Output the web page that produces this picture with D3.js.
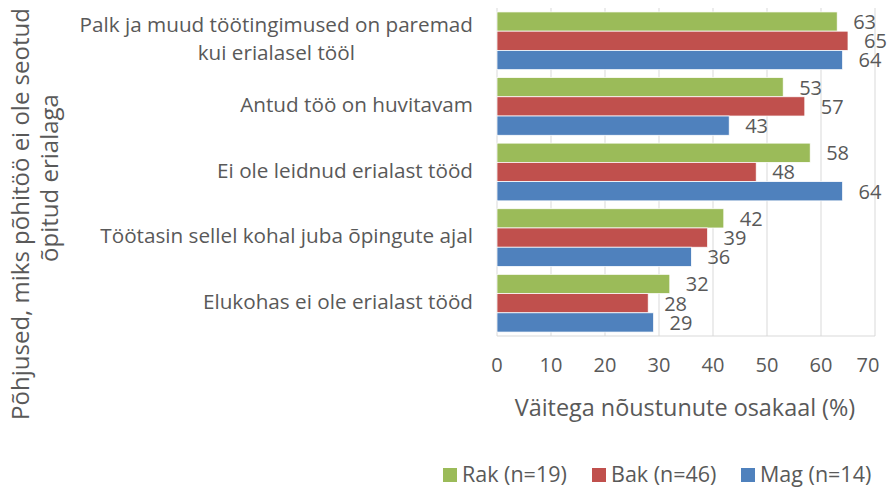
<!DOCTYPE html>
<html>
<head>
<meta charset="utf-8">
<script src="https://cdn.jsdelivr.net/npm/d3@7"></script>
<style>
  body { margin: 0; background: #fff; }
  text { font-family: "Open Sans", sans-serif; fill: #595959; }
</style>
</head>
<body>
<div id="chart"></div>
<script>
// categories, top to bottom
var categories = [
  "Palk ja muud töötingimused on paremad|kui erialasel tööl",
  "Antud töö on huvitavam",
  "Ei ole leidnud erialast tööd",
  "Töötasin sellel kohal juba õpingute ajal",
  "Elukohas ei ole erialast tööd"
];
var seriesNames = ["Rak (n=19)", "Bak (n=46)", "Mag (n=14)"];
var seriesColors = ["#9bbb59", "#c0504d", "#4f81bd"];
var rak = [63, 53, 58, 42, 32];
var bak = [65, 57, 48, 39, 28];
var mag = [64, 43, 64, 36, 29];
var xTicks = [0, 10, 20, 30, 40, 50, 60, 70];

var width = 889, height = 487;
var plotLeft = 497, plotRight = 875, plotTop = 8, plotBottom = 336;

var svg = d3.select('#chart').append('svg')
  .attr('width', width)
  .attr('height', height);

var x = d3.scaleLinear().domain([0, 70]).range([plotLeft, plotRight]);
var y = d3.scaleBand().domain(categories).range([plotTop, plotBottom]).paddingInner(0.12).paddingOuter(0.06);
var inner = d3.scaleBand().domain([0, 1, 2]).range([0, y.bandwidth()]);

// gridlines
svg.selectAll('.grid').data(xTicks).enter()
  .append('line').attr('class', 'grid')
  .attr('x1', function(d){ return x(d); })
  .attr('x2', function(d){ return x(d); })
  .attr('y1', plotTop)
  .attr('y2', plotBottom)
  .style('stroke', '#d9d9d9')
  .style('stroke-width', 1);

svg.append('line')
  .attr('x1', plotLeft).attr('x2', plotRight)
  .attr('y1', plotBottom).attr('y2', plotBottom)
  .style('stroke', '#d9d9d9');

var data = [rak, bak, mag];
var rows = [];
categories.forEach(function(c, i){
  data.forEach(function(s, j){
    rows.push({cat: c, s: j, v: s[i]});
  });
});

svg.selectAll('.bar').data(rows).enter()
  .append('rect').attr('class', 'bar')
  .attr('x', x(0))
  .attr('y', function(d){ return y(d.cat) + inner(d.s); })
  .attr('width', function(d){ return x(d.v) - x(0); })
  .attr('height', inner.bandwidth())
  .style('fill', function(d){ return seriesColors[d.s]; })
  .style('stroke', '#fff')
  .style('stroke-width', 0.75);

svg.selectAll('.lbl').data(rows).enter()
  .append('text').attr('class', 'lbl')
  .attr('x', function(d){ return x(d.v) + 16; })
  .attr('y', function(d){ return y(d.cat) + inner(d.s) + inner.bandwidth() / 2 + 2; })
  .attr('dominant-baseline', 'middle')
  .style('font-size', '20px')
  .text(function(d){ return d.v; });

// category labels, second line centred under the first
svg.selectAll('.cat').data(categories).enter()
  .append('text').attr('class', 'cat')
  .style('font-size', '20.7px')
  .each(function(d){
    var lines = d.split('|');
    var cy = y(d) + y.bandwidth() / 2;
    var t = d3.select(this);
    lines.forEach(function(l, k){
      t.append('tspan')
        .attr('y', cy + (k - (lines.length - 1) / 2) * 28)
        .attr('dominant-baseline', 'middle')
        .text(l);
    });
    var widest = 0;
    t.selectAll('tspan').each(function(){ widest = Math.max(widest, this.getComputedTextLength()); });
    t.selectAll('tspan').attr('x', function(){ return 473 - widest / 2 - this.getComputedTextLength() / 2; });
  });

// x tick labels (last one is pulled in to stay inside the chart)
svg.selectAll('.tick').data(xTicks).enter()
  .append('text').attr('class', 'tick')
  .attr('x', function(d){ return Math.min(x(d), 868); })
  .attr('y', 367)
  .attr('text-anchor', 'middle')
  .attr('dominant-baseline', 'middle')
  .style('font-size', '20px')
  .text(function(d){ return d; });

svg.append('text')
  .attr('x', 685).attr('y', 410)
  .attr('text-anchor', 'middle')
  .attr('dominant-baseline', 'middle')
  .style('font-size', '23.4px')
  .text('Väitega nõustunute osakaal (%)');

// y title
var yt1 = svg.append('text')
  .attr('transform', 'translate(23,214) rotate(-90)')
  .attr('text-anchor', 'middle')
  .attr('dominant-baseline', 'middle')
  .style('font-size', '24px')
  .text('Põhjused, miks põhitöö ei ole seotud');
var yt2 = svg.append('text')
  .attr('transform', 'translate(52,178) rotate(-90)')
  .attr('text-anchor', 'middle')
  .attr('dominant-baseline', 'middle')
  .style('font-size', '24px')
  .text('õpitud erialaga');

// legend
var legendX = [443, 592, 741];
var lg = svg.selectAll('.lg').data(seriesNames).enter()
  .append('g').attr('class', 'lg')
  .attr('transform', function(d, i){ return 'translate(' + legendX[i] + ',475)'; });
lg.append('rect').attr('x', 0).attr('y', -7).attr('width', 14).attr('height', 14)
  .style('fill', function(d, i){ return seriesColors[i]; });
lg.append('text').attr('x', 19).attr('y', 1)
  .attr('dominant-baseline', 'middle')
  .style('font-size', '21.5px')
  .text(function(d){ return d; });
</script>
</body>
</html>
